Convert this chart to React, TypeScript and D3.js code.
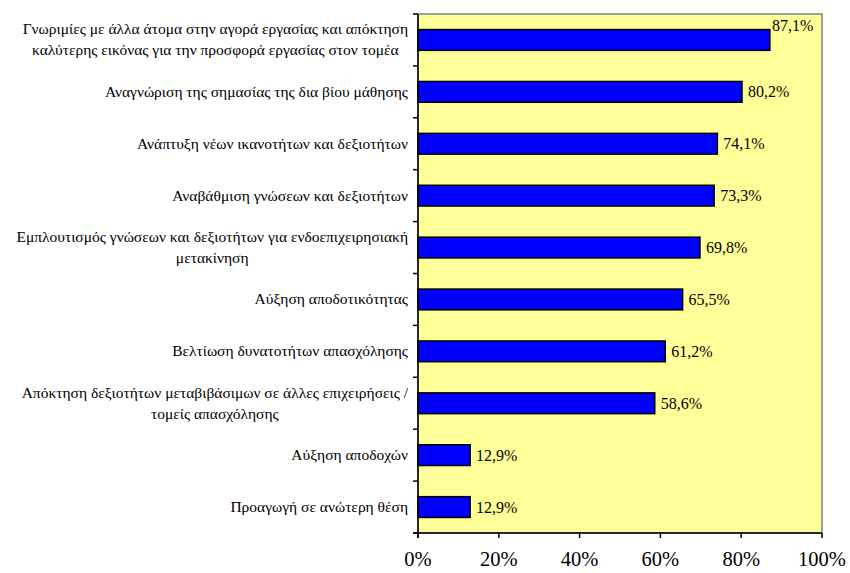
import React, { useLayoutEffect, useRef, useState } from "react";
import * as d3 from "d3";

const categories: string[][] = [
  ["Γνωριμίες με άλλα άτομα στην αγορά εργασίας και απόκτηση", "καλύτερης εικόνας για την προσφορά εργασίας στον τομέα"],
  ["Αναγνώριση της σημασίας της δια βίου μάθησης"],
  ["Ανάπτυξη νέων ικανοτήτων και δεξιοτήτων"],
  ["Αναβάθμιση γνώσεων και δεξιοτήτων"],
  ["Εμπλουτισμός γνώσεων και δεξιοτήτων για ενδοεπιχειρησιακή", "μετακίνηση"],
  ["Αύξηση αποδοτικότητας"],
  ["Βελτίωση δυνατοτήτων απασχόλησης"],
  ["Απόκτηση δεξιοτήτων μεταβιβάσιμων σε άλλες επιχειρήσεις /", "τομείς απασχόλησης"],
  ["Αύξηση αποδοχών"],
  ["Προαγωγή σε ανώτερη θέση"],
];
const values: number[] = [87.1, 80.2, 74.1, 73.3, 69.8, 65.5, 61.2, 58.6, 12.9, 12.9];
const xTicks: number[] = [0, 20, 40, 60, 80, 100];

const W = 850, H = 573;
const M = { left: 418, right: 822, top: 14, bottom: 533 };
const FONT = "Liberation Serif";

export default function App() {
  const x = d3.scaleLinear().domain([0, 100]).range([M.left, M.right]);
  const y = d3.scaleBand<number>().domain(d3.range(values.length)).range([M.top, M.bottom]).paddingInner(0.6).paddingOuter(0.3);
  const step = (M.bottom - M.top) / values.length;
  const rightEdge = 408;
  const lh = 21;
  const catSize = 15.5;

  const firstRefs = useRef<(SVGTextElement | null)[]>([]);
  const [widths, setWidths] = useState<number[]>(categories.map(() => 0));
  useLayoutEffect(() => {
    setWidths(categories.map((_, i) => {
      const el = firstRefs.current[i];
      return el ? el.getComputedTextLength() : 0;
    }));
  }, []);

  const txt = { fontFamily: FONT };

  return (
    <svg width={W} height={H} style={{ position: "absolute", left: 0, top: 0 }}>
      <rect x={M.left} y={M.top} width={M.right - M.left} height={M.bottom - M.top} fill="#FFFF99" stroke="#808080" strokeWidth={1.5} />
      {values.map((v, i) => (
        <rect key={"b" + i} x={x(0)} y={y(i)} width={x(v) - x(0)} height={y.bandwidth()} fill="#0000FF" stroke="#000" strokeWidth={1.5} />
      ))}
      {values.map((v, i) => (
        <text key={"v" + i} x={x(v) + (v > 85 ? 2 : 6)} y={v > 85 ? y(i)! + 1 : y(i)! + y.bandwidth() / 2 + 5.5}
          fontSize={16} fill="#000" style={txt}>{v.toFixed(1).replace(".", ",") + "%"}</text>
      ))}
      <line x1={M.left} x2={M.left} y1={M.top} y2={M.bottom + 5} stroke="#000" strokeWidth={1.5} />
      {d3.range(values.length + 1).map(i => (
        <line key={"yt" + i} x1={M.left - 5} x2={M.left} y1={M.top + i * step} y2={M.top + i * step} stroke="#000" strokeWidth={1.5} />
      ))}
      <line x1={M.left - 5} x2={M.right} y1={M.bottom} y2={M.bottom} stroke="#000" strokeWidth={1.5} />
      {xTicks.map(t => (
        <g key={"xt" + t}>
          <line x1={x(t)} x2={x(t)} y1={M.bottom} y2={M.bottom + 5} stroke="#000" strokeWidth={1.5} />
          <text x={x(t)} y={566} textAnchor="middle" fontSize={20.5} fill="#000" style={txt}>{t + "%"}</text>
        </g>
      ))}
      {categories.map((lines, i) => {
        const cy = y(i)! + y.bandwidth() / 2;
        const cx = rightEdge - widths[i] / 2;
        return lines.map((ln, k) => (
          <text key={"c" + i + "_" + k} ref={k === 0 ? (el => { firstRefs.current[i] = el; }) : undefined}
            x={cx} y={cy + (k - (lines.length - 1) / 2) * lh + 5} textAnchor="middle" fontSize={catSize} fill="#000" style={txt}>{ln}</text>
        ));
      })}
    </svg>
  );
}
